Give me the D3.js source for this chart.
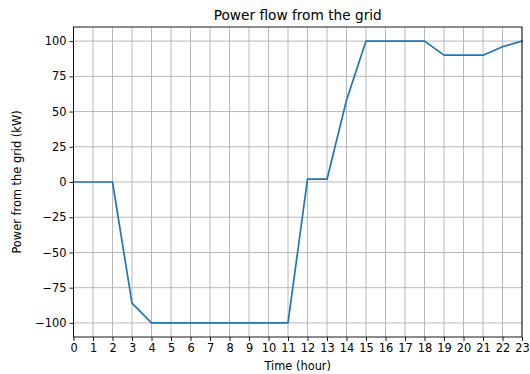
<!DOCTYPE html>
<html>
<head>
<meta charset="utf-8">
<script src="https://cdn.jsdelivr.net/npm/d3@7"></script>
<style>
  body { margin: 0; background: #fff; }
  svg { display: block; font-family: "DejaVu Sans", sans-serif; }
</style>
</head>
<body>
<svg id="chart" width="530" height="374"></svg>
<script>
// Hourly power drawn from the grid (kW)
const hours = d3.range(0, 24);
const gridPower = [0, 0, 0, -86, -100, -100, -100, -100, -100, -100, -100, -100,
                   2, 2, 58, 100, 100, 100, 100, 90, 90, 90, 96, 100];
const xTicks = d3.range(0, 24);
const yTicks = [-100, -75, -50, -25, 0, 25, 50, 75, 100];

const svg = d3.select("#chart");
const margin = { left: 73.5, right: 8, top: 27, bottom: 37 };
const W = 530, H = 374;
const x = d3.scaleLinear().domain([0, 23]).range([margin.left, W - margin.right]);
const y = d3.scaleLinear().domain([-110, 110]).range([H - margin.bottom, margin.top]);

const fs = 11.4;

// grid
const grid = svg.append("g");
grid.selectAll(".gx").data(xTicks).enter().append("line")
  .attr("x1", d => x(d)).attr("x2", d => x(d))
  .attr("y1", y(110)).attr("y2", y(-110))
  .attr("stroke", "#b0b0b0").attr("stroke-width", 0.9);
grid.selectAll(".gy").data(yTicks).enter().append("line")
  .attr("x1", x(0)).attr("x2", x(23))
  .attr("y1", d => y(d)).attr("y2", d => y(d))
  .attr("stroke", "#b0b0b0").attr("stroke-width", 0.9);

// line
const line = d3.line().x((d, i) => x(hours[i])).y(d => y(d));
svg.append("path").datum(gridPower)
  .attr("d", line)
  .attr("fill", "none")
  .attr("stroke", "#1f77b4")
  .attr("stroke-width", 1.7)
  .attr("stroke-linejoin", "round")
  .attr("stroke-linecap", "square");

// frame
svg.append("rect")
  .attr("x", x(0)).attr("y", y(110))
  .attr("width", x(23) - x(0)).attr("height", y(-110) - y(110))
  .attr("fill", "none").attr("stroke", "#000").attr("stroke-width", 0.9);

// axes
const fmt = d => (d < 0 ? "\u2212" + Math.abs(d) : String(d));
const xAxis = svg.append("g")
  .attr("transform", `translate(0,${y(-110)})`)
  .call(d3.axisBottom(x).tickValues(xTicks).tickSize(4).tickPadding(3).tickFormat(d => d));
const yAxis = svg.append("g")
  .attr("transform", `translate(${x(0)},0)`)
  .call(d3.axisLeft(y).tickValues(yTicks).tickSize(4).tickPadding(3).tickFormat(fmt));
[xAxis, yAxis].forEach(a => {
  a.select(".domain").remove();
  a.selectAll(".tick line").attr("stroke", "#000").attr("stroke-width", 0.9);
  a.selectAll(".tick text").attr("fill", "#000")
    .style("font-size", fs + "px").style("font-family", "DejaVu Sans");
});

// title and labels
svg.append("text")
  .attr("x", (x(0) + x(23)) / 2).attr("y", 20)
  .attr("text-anchor", "middle")
  .style("font-size", "13.7px")
  .text("Power flow from the grid");
svg.append("text")
  .attr("x", (x(0) + x(23)) / 2).attr("y", 370)
  .attr("text-anchor", "middle")
  .style("font-size", fs + "px")
  .text("Time (hour)");
svg.append("text")
  .attr("transform", `translate(21,${(y(110) + y(-110)) / 2}) rotate(-90)`)
  .attr("text-anchor", "middle")
  .style("font-size", fs + "px")
  .text("Power from the grid (kW)");
</script>
</body>
</html>
